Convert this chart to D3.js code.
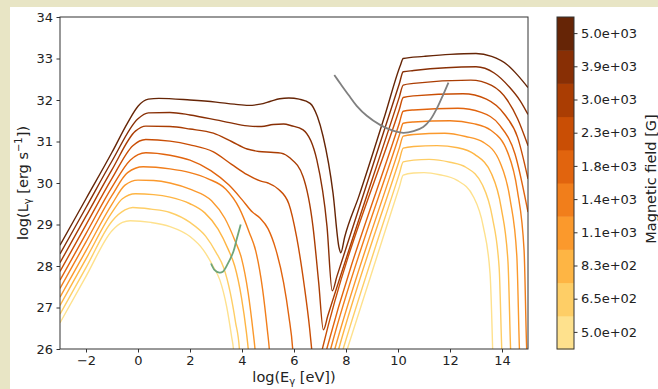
<!DOCTYPE html>
<html>
<head>
<meta charset="utf-8">
<script src="https://cdn.jsdelivr.net/npm/d3@7"></script>
<style>
	body { margin: 0; background: #e8e5c5; }
	svg { display: block; font-family: "DejaVu Sans", sans-serif; }
</style>
</head>
<body>
<svg id="chart" width="658" height="389"></svg>
<script>
// Photon spectra for a range of magnetic field strengths.
// Each spectrum is a list of [log(E) in eV, log(L) in erg/s] points.
var fieldLabels = ['5.0e+02', '6.5e+02', '8.3e+02', '1.1e+03', '1.4e+03',
	'1.8e+03', '2.3e+03', '3.0e+03', '3.9e+03', '5.0e+03'];

var spectrum500 = [[-3, 26.63], [-2, 27.75], [-1, 28.85], [-0.6, 29.05], [-0.3, 29.09], [0.5, 29.05],
	[1.23, 28.95], [2.0, 28.71], [2.51, 28.39], [2.9, 27.98], [3.15, 27.66], [3.41, 27.02], [3.6, 26.3],
	[3.67, 26.0], [3.72, 25.5], [7.8, 25.5], [8.05, 26.0], [10.05, 29.9], [10.2, 30.19], [10.6, 30.24],
	[11.0, 30.25], [11.6, 30.2], [12.26, 30.07], [12.9, 29.67], [13.28, 28.95], [13.54, 27.82],
	[13.64, 26.0], [13.66, 25.5]];
var spectrum650 = [[-3, 26.84], [-2, 27.96], [-1, 29.08], [-0.5, 29.35], [-0.2, 29.41], [0.5, 29.37],
	[1.23, 29.29], [2.0, 29.05], [2.6, 28.72], [3.0, 28.33], [3.3, 27.95], [3.55, 27.35], [3.75, 26.65],
	[3.9, 26.0], [3.95, 25.5], [7.65, 25.5], [7.89, 26.0], [10.05, 30.22], [10.2, 30.51], [10.6, 30.55],
	[11.2, 30.57], [12.0, 30.5], [12.61, 30.38], [13.25, 29.95], [13.63, 29.17], [13.89, 27.96],
	[13.99, 26.0], [14.02, 25.5]];
var spectrum830 = [[-3, 27.05], [-2, 28.17], [-1, 29.29], [-0.6, 29.62], [-0.1, 29.74], [0.6, 29.72],
	[1.23, 29.66], [2.0, 29.5], [2.57, 29.28], [3.08, 28.89], [3.47, 28.4], [3.72, 28.0], [3.98, 27.24],
	[4.17, 26.4], [4.24, 26.0], [4.3, 25.5], [7.5, 25.5], [7.72, 26.0], [10.05, 30.55], [10.2, 30.84],
	[10.6, 30.88], [11.5, 30.9], [12.3, 30.85], [12.95, 30.69], [13.59, 30.23], [13.97, 29.4],
	[14.23, 28.1], [14.33, 26.0], [14.36, 25.5]];
var spectrum1100 = [[-3, 27.25], [-2, 28.37], [-1, 29.49], [-0.5, 29.95], [0, 30.07], [0.6, 30.06],
	[1.23, 30.0], [2.0, 29.85], [2.83, 29.57], [3.34, 29.15], [3.73, 28.61], [3.98, 28.19], [4.24, 27.34],
	[4.43, 26.4], [4.5, 26.0], [4.56, 25.5], [7.35, 25.5], [7.57, 26.0], [10.05, 30.84], [10.2, 31.13],
	[10.6, 31.17], [11.8, 31.2], [12.6, 31.12], [13.29, 30.98], [13.93, 30.49], [14.31, 29.61],
	[14.57, 28.24], [14.67, 26.0], [14.7, 25.5]];
var spectrum1400 = [[-3, 27.46], [-2, 28.58], [-1, 29.7], [-0.4, 30.25], [0.2, 30.39], [1.23, 30.34],
	[2.0, 30.25], [2.7, 30.1], [3.38, 29.85], [3.89, 29.4], [4.28, 28.81], [4.53, 28.36], [4.79, 27.45],
	[4.98, 26.43], [5.05, 26.0], [5.1, 25.5], [7.2, 25.5], [7.41, 26.0], [10.05, 31.15], [10.2, 31.44],
	[10.6, 31.47], [12.0, 31.5], [12.9, 31.43], [13.57, 31.27], [14.21, 30.75], [14.59, 29.82],
	[14.85, 28.37], [14.95, 26.0], [15.0, 25.5]];
var spectrum1800 = [[-3, 27.66], [-2, 28.78], [-1, 29.9], [-0.3, 30.55], [0.3, 30.73], [1.23, 30.67],
	[2.0, 30.55], [2.8, 30.3], [3.5, 29.95], [4.0, 29.6], [4.4, 29.3], [4.7, 29.15], [5.0, 28.9],
	[5.3, 28.4], [5.6, 27.6], [5.8, 26.8], [5.95, 26.0], [6.0, 25.5], [7.05, 25.5], [7.26, 26.0],
	[10.05, 31.44], [10.2, 31.73], [10.6, 31.76], [12.3, 31.8], [13.2, 31.7], [13.9, 31.4],
	[14.5, 30.7], [15.0, 29.3]];
var spectrum2300 = [[-3, 27.87], [-2, 28.99], [-1, 30.11], [-0.2, 30.9], [0.3, 31.05], [1.23, 31.01],
	[2.0, 30.92], [2.9, 30.75], [3.6, 30.45], [4.2, 30.2], [4.7, 30.05], [5.0, 30.0], [5.4, 29.85],
	[5.8, 29.5], [6.1, 28.7], [6.4, 27.5], [6.6, 26.5], [6.68, 26.0], [6.75, 25.5], [6.9, 25.5],
	[7.09, 26.0], [10.05, 31.77], [10.2, 32.06], [10.6, 32.1], [12.5, 32.15], [13.4, 32.02],
	[14.1, 31.65], [14.6, 31.1], [15.0, 30.1]];
var spectrum3000 = [[-3, 28.08], [-2, 29.2], [-1, 30.32], [-0.1, 31.25], [0.3, 31.37], [1.23, 31.36],
	[2.0, 31.3], [2.9, 31.2], [3.6, 31.0], [4.2, 30.82], [4.65, 30.76], [5.1, 30.74], [5.5, 30.72],
	[5.85, 30.6], [6.35, 30.15], [6.73, 28.95], [6.95, 27.6], [7.13, 26.46], [7.3, 26.8],
	[10.05, 32.07], [10.2, 32.36], [10.6, 32.4], [12.8, 32.48], [13.6, 32.35], [14.2, 32.0],
	[14.6, 31.55], [15.0, 30.9]];
var spectrum3900 = [[-3, 28.29], [-2, 29.41], [-1, 30.53], [0, 31.55], [0.4, 31.69], [1.23, 31.7],
	[2.0, 31.64], [3.0, 31.52], [3.7, 31.43], [4.3, 31.37], [4.75, 31.36], [5.2, 31.41], [5.6, 31.42],
	[5.9, 31.38], [6.35, 31.28], [6.88, 30.55], [7.27, 28.95], [7.47, 27.4], [7.65, 27.75], [10.05, 32.39],
	[10.2, 32.68], [10.6, 32.71], [13.0, 32.8], [13.7, 32.65], [14.3, 32.3], [14.7, 31.98], [15.0, 31.65]];
var spectrum5000 = [[-3, 28.5], [-2, 29.62], [-1, 30.74], [-0.4, 31.45], [0, 31.85], [0.4, 32.02],
	[0.8, 32.04], [2.0, 32.0], [3.0, 31.95], [3.7, 31.9], [4.25, 31.87], [4.7, 31.9], [5.1, 31.97],
	[5.45, 32.03], [5.8, 32.05], [6.2, 32.02], [6.62, 31.92], [6.9, 31.6], [7.12, 31.12], [7.5, 29.76],
	[7.73, 28.45], [7.8, 28.32], [7.95, 28.7], [8.5, 29.69], [9.5, 31.64], [10.1, 32.85], [10.2, 33.0],
	[11.0, 33.05], [12.0, 33.1], [13.0, 33.12], [13.6, 33.05], [14.2, 32.85], [14.6, 32.6], [15.0, 32.3]];

var spectra = [spectrum500, spectrum650, spectrum830, spectrum1100, spectrum1400,
	spectrum1800, spectrum2300, spectrum3000, spectrum3900, spectrum5000];

// Sensitivity curves of the two instruments.
var greyLimit = [[7.55, 32.6], [7.8, 32.38], [8.1, 32.12], [8.41, 31.86], [8.8, 31.62], [9.31, 31.4],
	[9.8, 31.26], [10.2, 31.21], [10.6, 31.25], [10.97, 31.35], [11.25, 31.53], [11.49, 31.79],
	[11.74, 32.13], [11.94, 32.42]];
var greenLimit = [[2.81, 28.06], [2.95, 27.9], [3.13, 27.84], [3.26, 27.86], [3.45, 28.05],
	[3.67, 28.35], [3.79, 28.63], [3.95, 29.0]];

var xTicks = [-2, 0, 2, 4, 6, 8, 10, 12, 14];
var yTicks = [26, 27, 28, 29, 30, 31, 32, 33, 34];

var svg = d3.select('#chart');
var plotLeft = 60, plotRight = 528, plotTop = 17, plotBottom = 349;

svg.append('rect')
	.attr('x', 10).attr('y', 7)
	.attr('width', 648).attr('height', 382)
	.attr('fill', '#fff');

var x = d3.scaleLinear().domain([-3, 15]).range([plotLeft, plotRight]);
var y = d3.scaleLinear().domain([26, 34]).range([plotBottom, plotTop]);
var colour = function(i) {
	return d3.interpolateYlOrBr(0.25 + 0.75 * i / (fieldLabels.length - 1));
};

svg.append('clipPath').attr('id', 'plot-clip')
	.append('rect')
	.attr('x', plotLeft).attr('y', plotTop)
	.attr('width', plotRight - plotLeft).attr('height', plotBottom - plotTop);

var line = d3.line()
	.x(function(d) { return x(d[0]); })
	.y(function(d) { return y(d[1]); })
	.curve(d3.curveMonotoneX);
var smoothLine = d3.line()
	.x(function(d) { return x(d[0]); })
	.y(function(d) { return y(d[1]); })
	.curve(d3.curveCatmullRom.alpha(0.5));

var plotArea = svg.append('g').attr('clip-path', 'url(#plot-clip)');
plotArea.selectAll('.spectrum')
	.data(spectra)
	.enter().append('path')
	.attr('class', 'spectrum')
	.attr('d', line)
	.attr('fill', 'none')
	.attr('stroke', function(d, i) { return colour(i); })
	.attr('stroke-width', 1.4);

plotArea.append('path')
	.attr('d', smoothLine(greyLimit))
	.attr('fill', 'none')
	.attr('stroke', '#808080')
	.attr('stroke-width', 1.8);
plotArea.append('path')
	.attr('d', smoothLine(greenLimit))
	.attr('fill', 'none')
	.attr('stroke', '#6ea57a')
	.attr('stroke-width', 1.8);

// Axes.
var xAxis = svg.append('g')
	.attr('transform', 'translate(0,' + plotBottom + ')')
	.call(d3.axisBottom(x).tickValues(xTicks).tickSize(3.5).tickPadding(3.5)
		.tickFormat(function(d) { return d < 0 ? '\u2212' + (-d) : d; }));
var yAxis = svg.append('g')
	.attr('transform', 'translate(' + plotLeft + ',0)')
	.call(d3.axisLeft(y).tickValues(yTicks).tickSize(3.5).tickPadding(3.5));
[xAxis, yAxis].forEach(function(axis) {
	axis.select('.domain').remove();
	axis.selectAll('.tick line').attr('stroke', '#333');
	axis.selectAll('.tick text')
		.attr('font-family', '"DejaVu Sans", sans-serif')
		.attr('font-size', 13).attr('fill', '#222');
});

svg.append('rect')
	.attr('x', plotLeft).attr('y', plotTop)
	.attr('width', plotRight - plotLeft).attr('height', plotBottom - plotTop)
	.attr('fill', 'none').attr('stroke', '#333').attr('stroke-width', 1);

var xLabel = svg.append('text')
	.attr('x', (plotLeft + plotRight) / 2).attr('y', 382)
	.attr('text-anchor', 'middle').attr('font-size', 14.5).attr('fill', '#222');
xLabel.append('tspan').text('log(E');
xLabel.append('tspan').attr('font-size', 10).attr('dy', 3).text('\u03b3');
xLabel.append('tspan').attr('dy', -3).text(' [eV])');

var yLabel = svg.append('text')
	.attr('transform', 'translate(28,' + (plotTop + plotBottom) / 2 + ') rotate(-90)')
	.attr('text-anchor', 'middle').attr('font-size', 14.5).attr('fill', '#222');
yLabel.append('tspan').text('log(L');
yLabel.append('tspan').attr('font-size', 10).attr('dy', 3).text('\u03b3');
yLabel.append('tspan').attr('dy', -3).text(' [erg s');
yLabel.append('tspan').attr('font-size', 10).attr('dy', -6).text('\u22121');
yLabel.append('tspan').attr('dy', 6).text('])');

// Colour bar.
var barLeft = 557, barWidth = 17;
var band = d3.scaleBand()
	.domain(fieldLabels.slice().reverse())
	.range([plotTop, plotBottom]);
svg.append('g').selectAll('rect')
	.data(fieldLabels)
	.enter().append('rect')
	.attr('x', barLeft)
	.attr('y', function(d) { return band(d); })
	.attr('width', barWidth)
	.attr('height', band.bandwidth() + 0.5)
	.attr('fill', function(d, i) { return colour(i); });
svg.append('rect')
	.attr('x', barLeft).attr('y', plotTop)
	.attr('width', barWidth).attr('height', plotBottom - plotTop)
	.attr('fill', 'none').attr('stroke', '#333').attr('stroke-width', 1);
var barAxis = svg.append('g')
	.attr('transform', 'translate(' + (barLeft + barWidth) + ',0)')
	.call(d3.axisRight(band).tickSize(3.5).tickPadding(3.5));
barAxis.select('.domain').remove();
barAxis.selectAll('.tick line').attr('stroke', '#333');
barAxis.selectAll('.tick text')
	.attr('font-family', '"DejaVu Sans", sans-serif')
	.attr('font-size', 13).attr('fill', '#222');

svg.append('text')
	.attr('transform', 'translate(656,179) rotate(-90)')
	.attr('text-anchor', 'middle').attr('font-size', 14.5).attr('fill', '#222')
	.text('Magnetic field [G]');
</script>
</body>
</html>
